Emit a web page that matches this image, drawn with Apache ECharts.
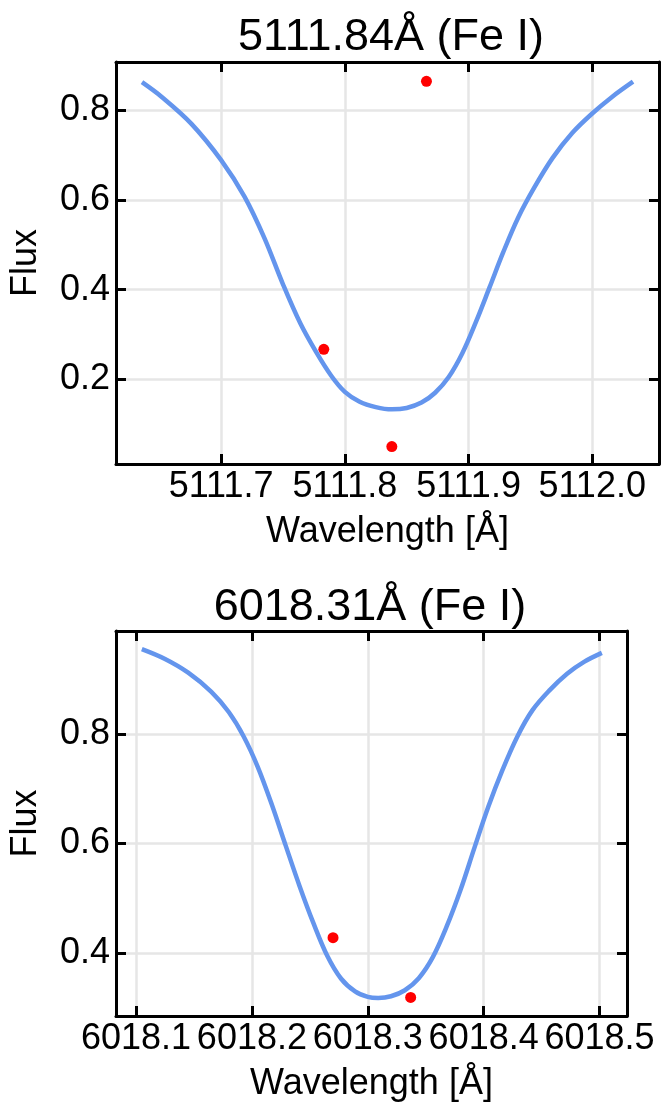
<!DOCTYPE html>
<html>
<head>
<meta charset="utf-8">
<script src="https://cdn.jsdelivr.net/npm/echarts@6/dist/echarts.min.js"></script>
<style>
  html, body { margin: 0; padding: 0; background: #fff; }
  #chart { width: 671px; height: 1106px; }
</style>
</head>
<body>
<div id="chart"></div>
<script>
// Fe I 5111.84 line
const fe5111Wave = [5111.636, 5111.652, 5111.676, 5111.700, 5111.719, 5111.735, 5111.750, 5111.764, 5111.777,
  5111.789, 5111.800, 5111.812, 5111.825, 5111.838, 5111.850, 5111.862, 5111.873, 5111.884, 5111.895,
  5111.906, 5111.917, 5111.928, 5111.940, 5111.953, 5111.968, 5111.984, 5112.000, 5112.016, 5112.033];
const fe5111Flux = [0.863, 0.830, 0.770, 0.689, 0.607, 0.515, 0.412, 0.325, 0.260,
  0.208, 0.172, 0.150, 0.138, 0.133, 0.136, 0.148, 0.170, 0.205, 0.258,
  0.328, 0.405, 0.483, 0.560, 0.627, 0.694, 0.750, 0.793, 0.830, 0.864];
const fe5111ObsWave = [5111.783, 5111.838, 5111.866];
const fe5111ObsFlux = [0.267, 0.050, 0.865];
const fe5111WaveTicks = [5111.7, 5111.8, 5111.9, 5112.0];
const fe5111FluxTicks = [0.2, 0.4, 0.6, 0.8];

// Fe I 6018.31 line
const fe6018Wave = [6018.105, 6018.125, 6018.145, 6018.165, 6018.180, 6018.193, 6018.205, 6018.217, 6018.229,
  6018.241, 6018.253, 6018.265, 6018.277, 6018.289, 6018.300, 6018.309, 6018.320, 6018.332, 6018.344,
  6018.356, 6018.368, 6018.380, 6018.392, 6018.404, 6018.416, 6018.429, 6018.442, 6018.457, 6018.472,
  6018.487, 6018.502];
const fe6018Flux = [0.955, 0.937, 0.912, 0.877, 0.840, 0.795, 0.740, 0.672, 0.597,
  0.523, 0.455, 0.395, 0.353, 0.330, 0.320, 0.318, 0.321, 0.332, 0.354,
  0.392, 0.448, 0.515, 0.592, 0.667, 0.733, 0.795, 0.843, 0.880, 0.910,
  0.932, 0.948];
const fe6018ObsWave = [6018.270, 6018.337];
const fe6018ObsFlux = [0.428, 0.319];
const fe6018WaveTicks = [6018.1, 6018.2, 6018.3, 6018.4, 6018.5];
const fe6018FluxTicks = [0.4, 0.6, 0.8];

const FONT = "'Liberation Sans', Arial, Helvetica, sans-serif";
const zip = (a, b) => a.map((v, i) => [v, b[i]]);

function axis(kind, grid, pos, min, max, ticks, main, name) {
  const ax = {
    type: 'value', gridIndex: grid, position: pos, min: min, max: max,
    axisLine: { show: true, onZero: false, lineStyle: { color: '#000', width: 3 } },
    axisTick: { show: true, inside: true, length: 10, customValues: ticks, lineStyle: { color: '#000', width: 3 } },
    axisLabel: {
      show: main, customValues: ticks, margin: kind === 'x' ? 5 : 6,
      color: '#000', fontSize: 36, fontFamily: FONT,
      formatter: v => v.toFixed(1)
    },
    splitLine: { show: main, lineStyle: { color: '#e6e6e6', width: 2.5 } }
  };
  if (main) {
    ax.name = name;
    ax.nameLocation = 'middle';
    ax.nameTextStyle = { color: '#000', fontSize: 36, fontFamily: FONT };
    ax.nameGap = kind === 'x' ? 50 : 72;
  }
  return ax;
}

function line(xi, wave, flux) {
  return { type: 'line', xAxisIndex: xi, yAxisIndex: xi, data: zip(wave, flux),
    showSymbol: false, smooth: 0.35,
    lineStyle: { color: '#6495ed', width: 4.5 } };
}

function dots(xi, wave, flux) {
  return { type: 'scatter', xAxisIndex: xi, yAxisIndex: xi, data: zip(wave, flux),
    symbolSize: 11, itemStyle: { color: '#ff0000', opacity: 1 } };
}

const chart = echarts.init(document.getElementById('chart'));
chart.setOption({
  animation: false,
  backgroundColor: '#fff',
  title: [
    { text: '5111.84Å (Fe I)', left: 386, top: 10, textAlign: 'center',
      textStyle: { color: '#000', fontSize: 45, fontWeight: 'normal', fontFamily: FONT } },
    { text: '6018.31Å (Fe I)', left: 365, top: 580, textAlign: 'center',
      textStyle: { color: '#000', fontSize: 45, fontWeight: 'normal', fontFamily: FONT } }
  ],
  grid: [
    { left: 114, top: 62, width: 545, height: 402 },
    { left: 104, top: 631, width: 523, height: 385 }
  ],
  xAxis: [
    axis('x', 0, 'bottom', 5111.615, 5112.054, fe5111WaveTicks, true, 'Wavelength [Å]'),
    axis('x', 0, 'top', 5111.615, 5112.054, fe5111WaveTicks, false),
    axis('x', 1, 'bottom', 6018.0827, 6018.5237, fe6018WaveTicks, true, 'Wavelength [Å]'),
    axis('x', 1, 'top', 6018.0827, 6018.5237, fe6018WaveTicks, false)
  ],
  yAxis: [
    axis('y', 0, 'left', 0.011, 0.908, fe5111FluxTicks, true, 'Flux'),
    axis('y', 0, 'right', 0.011, 0.908, fe5111FluxTicks, false),
    axis('y', 1, 'left', 0.285, 0.988, fe6018FluxTicks, true, 'Flux'),
    axis('y', 1, 'right', 0.285, 0.988, fe6018FluxTicks, false)
  ],
  series: [
    line(0, fe5111Wave, fe5111Flux),
    dots(0, fe5111ObsWave, fe5111ObsFlux),
    line(2, fe6018Wave, fe6018Flux),
    dots(2, fe6018ObsWave, fe6018ObsFlux)
  ]
});
</script>
</body>
</html>
